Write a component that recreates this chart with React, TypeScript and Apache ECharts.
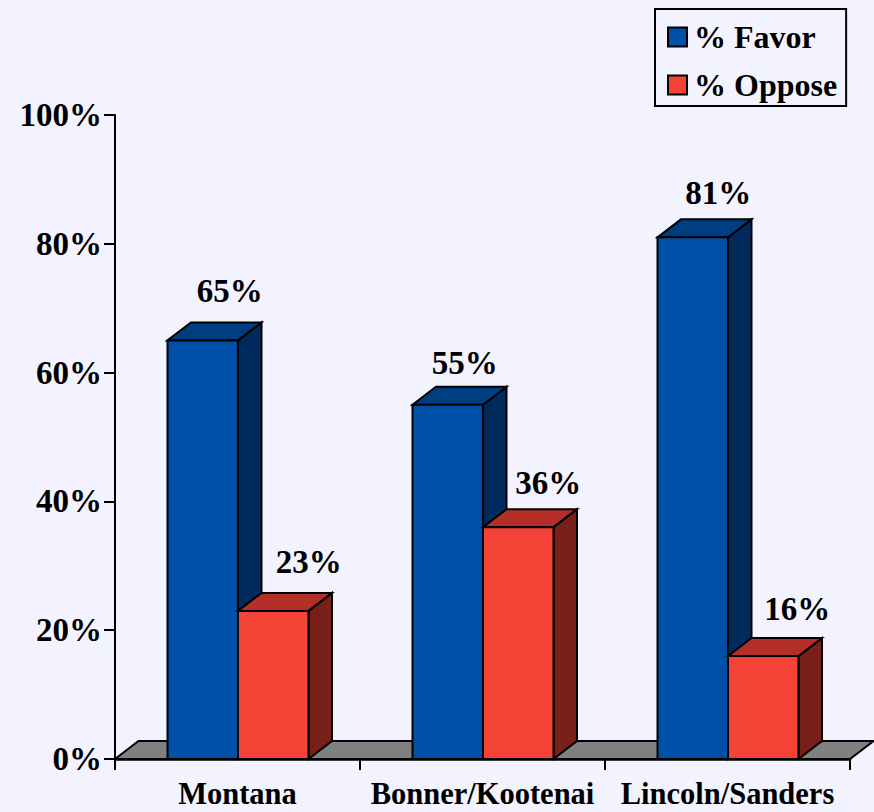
import React, { useEffect, useRef } from "react";
import * as echarts from "echarts";

const categories = ["Montana", "Bonner/Kootenai", "Lincoln/Sanders"];
const favorValues = [65, 55, 81];
const opposeValues = [23, 36, 16];
const yTicks = [0, 20, 40, 60, 80, 100];

// Hand-placed label nudges relative to the top-front of each bar
const favorLabelOffsets = [[27, -49], [17, -42], [25.5, -44]];
const opposeLabelOffsets = [[35.5, -49], [30, -44], [34, -47]];

const FONT = '"Liberation Serif", "Times New Roman", serif';
const BG = "#F3F3FF";
const BAR_W = 70.5;
const DX = 23.5;
const DY = -18;

function barSeries(
  name: string,
  values: number[],
  colors: { front: string; top: string; side: string },
  side: -1 | 1,
  offsets: number[][],
  z: number
) {
  return {
    name,
    type: "custom",
    z,
    clip: false,
    itemStyle: { color: colors.front, borderColor: "#000", borderWidth: 2 },
    data: values.map((v, i) => [i, v]),
    encode: { x: 0, y: 1 },
    renderItem: (params: any, api: any) => {
      const i = api.value(0);
      const v = api.value(1);
      const top = api.coord([i, v]);
      const base = api.coord([i, 0]);
      const x0 = (side < 0 ? top[0] - BAR_W : top[0]) + 0.5;
      const x1 = x0 + BAR_W;
      const y0 = top[1];
      const y1 = base[1];
      const line = { stroke: "#000", lineWidth: 2, lineJoin: "miter" };
      const off = offsets[params.dataIndex];
      return {
        type: "group",
        children: [
          {
            type: "polygon",
            shape: { points: [[x1, y0], [x1 + DX, y0 + DY], [x1 + DX, y1 + DY], [x1, y1]] },
            style: { fill: colors.side, ...line },
          },
          {
            type: "polygon",
            shape: { points: [[x0, y0], [x0 + DX, y0 + DY], [x1 + DX, y0 + DY], [x1, y0]] },
            style: { fill: colors.top, ...line },
          },
          {
            type: "rect",
            shape: { x: x0, y: y0, width: BAR_W, height: y1 - y0 },
            style: { fill: colors.front, ...line },
          },
          {
            type: "text",
            x: (x0 + x1) / 2 + off[0],
            y: y0 + off[1],
            style: {
              text: v + "%",
              font: `bold 33px ${FONT}`,
              fill: "#000",
              align: "center",
              verticalAlign: "middle",
            },
          },
        ],
      };
    },
  };
}

export default function App() {
  const ref = useRef<HTMLDivElement>(null);
  useEffect(() => {
    document.body.style.margin = "0";
    document.body.style.background = BG;
    const chart = echarts.init(ref.current!, undefined, { renderer: "svg" });
    chart.setOption({
      animation: false,
      backgroundColor: BG,
      textStyle: { fontFamily: FONT },
      grid: { left: 115, right: 24, top: 115, bottom: 53 },
      legend: {
        data: ["% Favor", "% Oppose"],
        orient: "vertical",
        left: 655,
        top: 9,
        padding: [12, 9, 5, 12],
        itemWidth: 19,
        itemHeight: 19,
        itemGap: 16,
        borderColor: "#000",
        borderWidth: 2,
        icon: "rect",
        itemStyle: { borderColor: "#000", borderWidth: 2 },
        textStyle: { fontFamily: FONT, fontWeight: "bold", fontSize: 32, color: "#000", padding: [0, 0, 0, 2] },
      },
      xAxis: {
        type: "category",
        data: categories,
        z: 10,
        axisLine: { lineStyle: { color: "#000", width: 2.5 } },
        axisTick: { show: true, length: 11, lineStyle: { color: "#000", width: 2 } },
        axisLabel: { color: "#000", fontFamily: FONT, fontWeight: "bold", fontSize: 30.5, lineHeight: 28, margin: 21, interval: 0 },
      },
      yAxis: {
        type: "value",
        min: 0,
        max: 100,
        interval: 20,
        z: 10,
        splitLine: { show: false },
        axisLine: { show: true, lineStyle: { color: "#000", width: 2 } },
        axisTick: { show: true, length: 11, lineStyle: { color: "#000", width: 2 } },
        axisLabel: {
          color: "#000",
          fontFamily: FONT,
          fontWeight: "bold",
          fontSize: 33,
          margin: 13,
          customValues: yTicks,
          formatter: "{value}%",
        },
      },
      series: [
        {
          name: "floor",
          type: "custom",
          z: 1,
          clip: false,
          silent: true,
          data: [[0, 0]],
          renderItem: (params: any) => {
            const c = params.coordSys;
            const b = c.y + c.height;
            return {
              type: "polygon",
              shape: {
                points: [
                  [c.x, b],
                  [c.x + DX, b + DY],
                  [c.x + c.width + DX, b + DY],
                  [c.x + c.width, b],
                ],
              },
              style: { fill: "#808080", stroke: "#000", lineWidth: 2 },
            };
          },
        },
        barSeries("% Favor", favorValues, { front: "#0050A8", top: "#003E82", side: "#002A5C" }, -1, favorLabelOffsets, 3),
        barSeries("% Oppose", opposeValues, { front: "#F44336", top: "#B42F28", side: "#781F19" }, 1, opposeLabelOffsets, 4),
      ],
    });
    return () => chart.dispose();
  }, []);
  return <div ref={ref} style={{ width: 874, height: 812 }} />;
}
